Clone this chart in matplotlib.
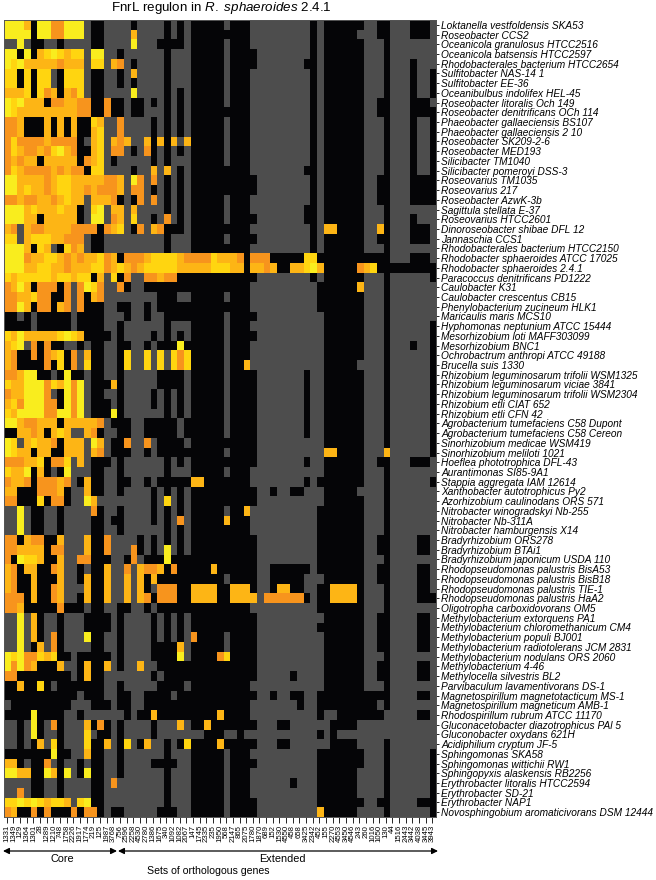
import numpy as np
import matplotlib
matplotlib.use('Agg')
import matplotlib.pyplot as plt
from matplotlib.colors import ListedColormap

plt.rcParams['font.family'] = ['Liberation Sans', 'DejaVu Sans']
plt.rcParams['mathtext.fontset'] = 'custom'
plt.rcParams['mathtext.rm'] = 'Liberation Sans'
plt.rcParams['mathtext.it'] = 'Liberation Sans:italic'

organisms = [
    'Loktanella vestfoldensis SKA53', 'Roseobacter CCS2', 'Oceanicola granulosus HTCC2516',
    'Oceanicola batsensis HTCC2597', 'Rhodobacterales bacterium HTCC2654', 'Sulfitobacter NAS-14 1',
    'Sulfitobacter EE-36', 'Oceanibulbus indolifex HEL-45', 'Roseobacter litoralis Och 149',
    'Roseobacter denitrificans OCh 114', 'Phaeobacter gallaeciensis BS107', 'Phaeobacter gallaeciensis 2 10',
    'Roseobacter SK209-2-6', 'Roseobacter MED193', 'Silicibacter TM1040', 'Silicibacter pomeroyi DSS-3',
    'Roseovarius TM1035', 'Roseovarius 217', 'Roseobacter AzwK-3b', 'Sagittula stellata E-37',
    'Roseovarius HTCC2601', 'Dinoroseobacter shibae DFL 12', 'Jannaschia CCS1',
    'Rhodobacterales bacterium HTCC2150', 'Rhodobacter sphaeroides ATCC 17025', 'Rhodobacter sphaeroides 2.4.1',
    'Paracoccus denitrificans PD1222', 'Caulobacter K31', 'Caulobacter crescentus CB15',
    'Phenylobacterium zucineum HLK1', 'Maricaulis maris MCS10', 'Hyphomonas neptunium ATCC 15444',
    'Mesorhizobium loti MAFF303099', 'Mesorhizobium BNC1', 'Ochrobactrum anthropi ATCC 49188',
    'Brucella suis 1330', 'Rhizobium leguminosarum trifolii WSM1325', 'Rhizobium leguminosarum viciae 3841',
    'Rhizobium leguminosarum trifolii WSM2304', 'Rhizobium etli CIAT 652', 'Rhizobium etli CFN 42',
    'Agrobacterium tumefaciens C58 Dupont', 'Agrobacterium tumefaciens C58 Cereon',
    'Sinorhizobium medicae WSM419', 'Sinorhizobium meliloti 1021', 'Hoeflea phototrophica DFL-43',
    'Aurantimonas SI85-9A1', 'Stappia aggregata IAM 12614', 'Xanthobacter autotrophicus Py2',
    'Azorhizobium caulinodans ORS 571', 'Nitrobacter winogradskyi Nb-255', 'Nitrobacter Nb-311A',
    'Nitrobacter hamburgensis X14', 'Bradyrhizobium ORS278', 'Bradyrhizobium BTAi1',
    'Bradyrhizobium japonicum USDA 110', 'Rhodopseudomonas palustris BisA53', 'Rhodopseudomonas palustris BisB18',
    'Rhodopseudomonas palustris TIE-1', 'Rhodopseudomonas palustris HaA2', 'Oligotropha carboxidovorans OM5',
    'Methylobacterium extorquens PA1', 'Methylobacterium chloromethanicum CM4', 'Methylobacterium populi BJ001',
    'Methylobacterium radiotolerans JCM 2831', 'Methylobacterium nodulans ORS 2060', 'Methylobacterium 4-46',
    'Methylocella silvestris BL2', 'Parvibaculum lavamentivorans DS-1', 'Magnetospirillum magnetotacticum MS-1',
    'Magnetospirillum magneticum AMB-1', 'Rhodospirillum rubrum ATCC 11170', 'Gluconacetobacter diazotrophicus PAl 5',
    'Gluconobacter oxydans 621H', 'Acidiphilium cryptum JF-5', 'Sphingomonas SKA58', 'Sphingomonas wittichii RW1',
    'Sphingopyxis alaskensis RB2256', 'Erythrobacter litoralis HTCC2594', 'Erythrobacter SD-21',
    'Erythrobacter NAP1', 'Novosphingobium aromaticivorans DSM 12444',
]

gene_sets = [
    '1331', '1349', '129', '1364', '1301', '28', '1289', '1210', '748', '1758', '2226', '1917', '1774', '219',
    '125', '1987', '3768', '756', '2596', '2258', '4530', '2780', '1386', '1675', '340', '1092', '1082', '2067',
    '147', '1745', '2335', '235', '1950', '568', '2147', '865', '2075', '1780', '1870', '689', '152', '1530',
    '4550', '458', '658', '3425', '2342', '452', '155', '2270', '4553', '3450', '4546', '243', '260', '1016',
    '1050', '130', '44', '1516', '2443', '3442', '4038', '3445', '3943',
]

# . absent, - no site, d/c/b/a = orange to yellow score
cells_left = [
    "aaac. aadda aa- .. ---- .---- .-.-",
    "aaaa. aadda aa- .. ---- c---- .-.-",
    "--a-. .--.- --- .. ---- a---. ...-",
    "aa.a. cbabc bb- aa --.- ----- .---",
    "abacc cccdc cc- bb -cd- .---- .---",
    "bb.b. bb-.b bb- .. --.- c---- .---",
    "bb.b. bb-.b bb- .. --.- .---- .---",
    "cccb. bdc.c db- .. ---- a---- .-.-",
    "abacc c.ddc cdd .. d..- ..-.- .-.-",
    "abccc ccccc cdd .. d..- ..--- .-.-",
    "ddc.. .c.c. c.. bc --d- ---.- .-.-",
    "ddc.. .c.c. c.. cb --d- ---.- .-.-",
    "dbddd dcddd d.- cb -cdc --c.c .c-c",
    "dbcdd cdbac d.. cb -dd- .-d.- .-.-",
    "dcdcc .cccc c.d cb -.-- ---.- .---",
    "dbcdd ddcdc dd. bb ---- .--c- c-.-",
    "aaccc cdcbb ccc cc ddc- ad-d- .-.-",
    "aacbc cdcbb ccd cd ddc- dd-.- .-.-",
    "ddcdd ccdcb cc- cc cd.- .d-d- .-.-",
    "aaacb cccbc c.- ba -cc- c---- .-.-",
    "aaacc .cccc c.- aa -dc- b--.- d-.-",
    "cd-cd dcccc ddd d. dcb- .d-cd ...-",
    "bb-cb bbccd dd- .. ---- ----- .---",
    "aaac. bc-.b dc- .. ---- ----- .---",
    "aaadc cbbcd cdc cb dc.d ddcbb bbcd",
    "aaacc bbccd ccc bb dcbc dcbbb bbcc",
    "bcbbb bbcbb cbb .c -b.d --ddc dd..",
    "dcac. ddd.d -da bd --d. --... ....",
    "ddccb dd..d -d. cd ---- ----. ..--",
    "ddac. dd.cd -d. .. --.. --.-. ....",
    "..-.- ..... -.. .. ---. --.-- ....",
    "....- ..... -.. .. --.- ----- .---",
    "bcacc cccba bc. .. .-.- ---.- .-.-",
    "cba-d .d..- -.- .. --.. --.-. ..a.",
    "cd..d .dcb. d-c .. --.b --b-b -bdb",
    "cd... .d.b. d-b .. --.b --b-b -bdb",
    "ddcaa ..-.a ..- .. --.- ----. ...-",
    "bccaa adbca da- .. .c.- ----. ...-",
    "dccaa ad-.a da- .. --.- ---.- .-.-",
    "cbdaa add.a da- .. .-.- ---.- .-.-",
    "bcaaa addaa da- .. .a.- ----- .-.-",
    "aacdd ccc.c ccc cd -... --... ..-.",
    "..ccd c.cbc --c d. --.. --... ..-.",
    "ab-cb ccd.c cc- ac -..d --d-. ...-",
    "abcc. cc..c cc- cd -... --.-. ....",
    "dddcc b.ddb -c- .. .-.- ----- .-.-",
    "bcca. c.-.a --- .. --.- ----- .---",
    "dccd. dddcd -.c .. --.. --.-. ....",
    "cc... dddc. --c .. --.- ---.- .-.-",
    "dd... b.dd. --a c- ---- ---.- b-.-",
    "--a-. .--.- --- d. --.- ---.- .-.-",
    "--a-. .--.- --- .. -..- ---.- .-d-",
    "--a-. .--.- --- .. --.- ----- .-.-",
    "dd.cd d..c- --c .. d--- -.-.- .-.-",
    "ddccc c.dd- --c .. d--- d.-.- a-.-",
    "d.abb c..c- -dd .. .--. d-... a...",
    "cd.cc ..dc- -.- .. c--d -cddc .d..",
    "cd..c ...c- -.c .. c--c -c.c. ....",
    "cd..c ..dc- --c .. c--c -c.-d dd..",
    "ddd.c ..dc- -.c .. c--c -cd.d dd..",
    "ddc.. ...d. ..- .. --.. --.-. ....",
    "--a-c .--.- --. .. .-.- ---.- .-.-",
    "--a-c .--.- --. .. .-.- ---.- .-.-",
    "--a-c .-d.- --a .. --.- ---.- .-.-",
    "--a-. c-d.- --- .. --.- ---.. ..c-",
    "abadd bcb.. -.. .. .-.- ---.. ..a-",
    "adadc ...c- -.c .. c-.- -c--. ....",
    "dd... ..... -.c .. ---- ---.- ....",
    "..c.. b.-.. ... .. --.- ----. ...-",
    "..... ..... .-. .. --.. --... .-..",
    "-.... ..... --- .. .-.. --... ....",
    "....a ....- -.- -- ---. -..c. ....",
    "--.-a .-d.- --c .d .-.- ---.- --c-",
    "--.-a .--.- --b -. .-.- ---.- ----",
    "--.-. c-b.- --b .. c-.b -.c-- .-.b",
    "..... ..a.. --c .. --.- ----- .---",
    "cc.-. .d-.- -.- .. --.- ---.. ..--",
    "aacc. .ac.a -.a .. --.- ----- .---",
    "----. .--.- --- .. -d-- ----- .---",
    "--d-. .--.- --- .. ---- ----- .---",
    "bbaba bcbbc -ba .. ---- ----- .---",
    "dc..d .d... d.d d. -..- ----. ..--",
]

cells_right = [
    "..... - ... - -------- . - ...... --. . --- ... -",
    "..... . ... - -------- . - .....- --. . --- ... -",
    "..... - ... - -------- . - ...... --- . --- --- -",
    "..... - ... . -------- . - ...... --- . --- --- -",
    "..... - ... . -------. . - ...... --- . --- .-- -",
    "..... - ... - -------- . - ...... --- . --- .-- .",
    "..... - ... - -------- . - ...... --- . --- .-- .",
    "..... - ... - -------- . - ...... --- . --- .-- .",
    "..... - ... - -------- . - ...... --. . --- ... -",
    "..... . ... - -------- . - ...... --. . --- ... .",
    "..... - ... - -------- . - ...... --- . --- .-- .",
    "..... - ... - -------- . - ...... --- . --- .-- .",
    "..... - ... - -------- . - ...... --- . --- .-- .",
    "..... - ... - -------- . - ...... --- . --- .-- .",
    "..... - ... - -------- . - ...... --- . --- .-- .",
    "..... . ... - -------. . - ...... --- . --- .-- .",
    "..... . ... . -------- . - ...... --. . --- ... .",
    "..... . ... . -------- . - ...... --. . --- ... .",
    "..... - ... - -------- . - ...... --. . --- ... .",
    "..... - ... - -------. . - ...... --- . --- --- -",
    "..... - ... . -------. . - ...... --- . --- .-- -",
    "..... . ... - -------- . - cc.... --c . --- ... -",
    "..... - ... . -------- . - ...... --. . --- ... -",
    "..... . ... - -------- . - ...... --- . --- --- -",
    "dddbc c cd. d dd.....b b . ...... ... . --- ... -",
    "cccbb b cc. c cdc..ccb a c .....d cb. . ... ... .",
    "..... . ... . -------- . - ...... --- . --- --- .",
    "..... . ... - -------- - . .....c --- . --- --- -",
    "..... - ... - -------- - . ...... --- . --- --- -",
    "..... . ... - -------- - . ...... --- . --- --- -",
    "..... - ... . -------- - - ...... --- . --- --- -",
    "..... - ... - -------- - - ...... --- . --- --- .",
    "..... - ... . -------- - - ...... --- . --- --- .",
    "..... - ... - -------- - - ...... --- . --- .-- .",
    "..... - ... - -------- - - ...... --- . --- --- .",
    "..... - ..c - -------- - - .....- --- . --- --- .",
    "..... - ... . -------. - - ...... --- . --- --- .",
    "..... - ... . -------. - - ...... --- . --- --- .",
    "..... - ... . -------. - - ...... --- . --- --- .",
    "..... - ... . -------. - - ...... --- . --- --- .",
    "..... - ... . -------. - - ...... --- . --- --- .",
    "..... - ... . -------. - - ...... --- . --- --- .",
    "..... - ... . -------. - - ...... --- . --- --- .",
    "..... . ... . -------- - - ...... --- . --- --- .",
    "..... - ... . -------- - - cc.... --- c --- --- .",
    "..... . ... . -------. - - ...... --. . --- ... -",
    "..... - ... - -------- - - ...... --- . --- --- -",
    "cc... . ... - -------. - . ...... --- . --- --- .",
    "..... . ... . --.--..- - - .....- --- . --- --- -",
    "..... . ... . -------- - - ...... --- . --- --- -",
    "..... - ..c - -------- - . ...... --- . --- --- -",
    "..... c ... - -------- - . ...... --- . --- --- -",
    "..... . ... - -------- - . ...... --- . --- --- -",
    "..... . ... . -------- - . ...... --. . --- -.. -",
    "..... . ... . -------- - . ...... --. . --- -.. -",
    "..... . ... . -------- - . ...... --- . --- --- -",
    "...c. . ... . --...... - . ...... --. . --- -.. -",
    "..... - ... . --.....- - - ...... --. . --- -.. -",
    "cccc. . ccc . --.cc..- - . .cccc. --- . --- -.. -",
    "cccc. . ccc c -dddddd. - . .cccc. --- . --- -.. .",
    "..... . ... - -------- - . ...... --- . --- --- -",
    "..... . ... . -------- - - ...... --. . --- -.. -",
    "..... . ... . -------- - . ...... --. . --- -.. -",
    "d.... - ... . -------- - - ...... --. . --- -.. -",
    "..... - ... . -------- - - ...... --. . --- -.. -",
    "....d b ... . -------- - - ...... --- . --- --- -",
    "..... . ... . -------- - - ...... --. . --- -.. -",
    "..... . ... . -----.-- - - ...... --. . --- -.. -",
    "..... . ... - -------- - - ...... --- . --- --- -",
    "..... . ... . --.--..- - . ...... ... . --- -.. -",
    "..... . ... - ------.- - . ...... ..- . --- --- -",
    "....c . ... - -------- - . --.... ... - --- -.. -",
    "..c.. . ... . ---..--- - - -....- --- - --- --- -",
    "--... - -.- - -------- - . -.---- --- - --- --- -",
    "....c . ... . ---..--- - - -....- --- . --- --- -",
    "..... - ... - -------- - . ...... --- . --- --- .",
    "..... - ... . -------- - . ...... --- . --- --- .",
    "..... - ... - -------- - . .....- --- . --- --- .",
    "..... - ... - -----.-- - . .....- --- . --- --- .",
    "..... - ... - -------- - . .....- --- . --- --- .",
    "..... - ... . -------- - . ...... --. . --- -.. .",
    "..... - ... . -------- - c .....- --- . --- --- .",
]

codes = {'.': 0, '-': 1, 'd': 2, 'c': 3, 'b': 4, 'a': 5}
colors = ['#050507', '#4d4d4d', '#f7941d', '#fdb515', '#ffd510', '#f9ed1e']

rows = [(l + r).replace(' ', '') for l, r in zip(cells_left, cells_right)]
for i, row in enumerate(rows):
    assert len(row) == 65, (i, len(row))
grid = np.array([[codes[ch] for ch in row] for row in rows])

W, H = 656, 880
fig = plt.figure(figsize=(W / 100, H / 100), dpi=100)
ax = fig.add_axes([3.5 / W, 1 - 817 / H, 432.2 / W, 797 / H])
ax.imshow(grid, cmap=ListedColormap(colors), vmin=0, vmax=5, aspect='auto', interpolation='nearest')

ax.yaxis.tick_right()
ax.set_yticks(range(len(organisms)))
ax.set_yticklabels(organisms, fontsize=7.3, style='italic')
ax.tick_params(axis='y', length=2.5, width=0.6, pad=1.5)
ax.set_xticks(range(len(gene_sets)))
ax.set_xticklabels(gene_sets, rotation=90, fontsize=5.6)
ax.tick_params(axis='x', length=4, width=0.6, pad=1.5)
for s in ax.spines.values():
    s.set_color('#555555')
    s.set_linewidth(0.7)

fig.text(221 / W, 1 - 8 / H, r'FnrL regulon in $\mathit{R.}$ $\mathit{sphaeroides}$ 2.4.1',
         ha='center', va='center', fontsize=9.6)

arrow = dict(arrowstyle='<|-|>', color='black', lw=0.9, shrinkA=0, shrinkB=0, mutation_scale=9)
ax_fig = fig.transFigure
ax.annotate('', xy=(3 / W, 1 - 851 / H), xytext=(117 / W, 1 - 851 / H), xycoords=ax_fig, textcoords=ax_fig, arrowprops=arrow)
ax.annotate('', xy=(118 / W, 1 - 851 / H), xytext=(438 / W, 1 - 851 / H), xycoords=ax_fig, textcoords=ax_fig, arrowprops=arrow)
fig.text(62 / W, 1 - 858.5 / H, 'Core', ha='center', va='center', fontsize=7.8)
fig.text(282 / W, 1 - 858.5 / H, 'Extended', ha='center', va='center', fontsize=7.8)
fig.text(208 / W, 1 - 871 / H, 'Sets of orthologous genes', ha='center', va='center', fontsize=7.6)

fig.savefig('out.png', dpi=100)
